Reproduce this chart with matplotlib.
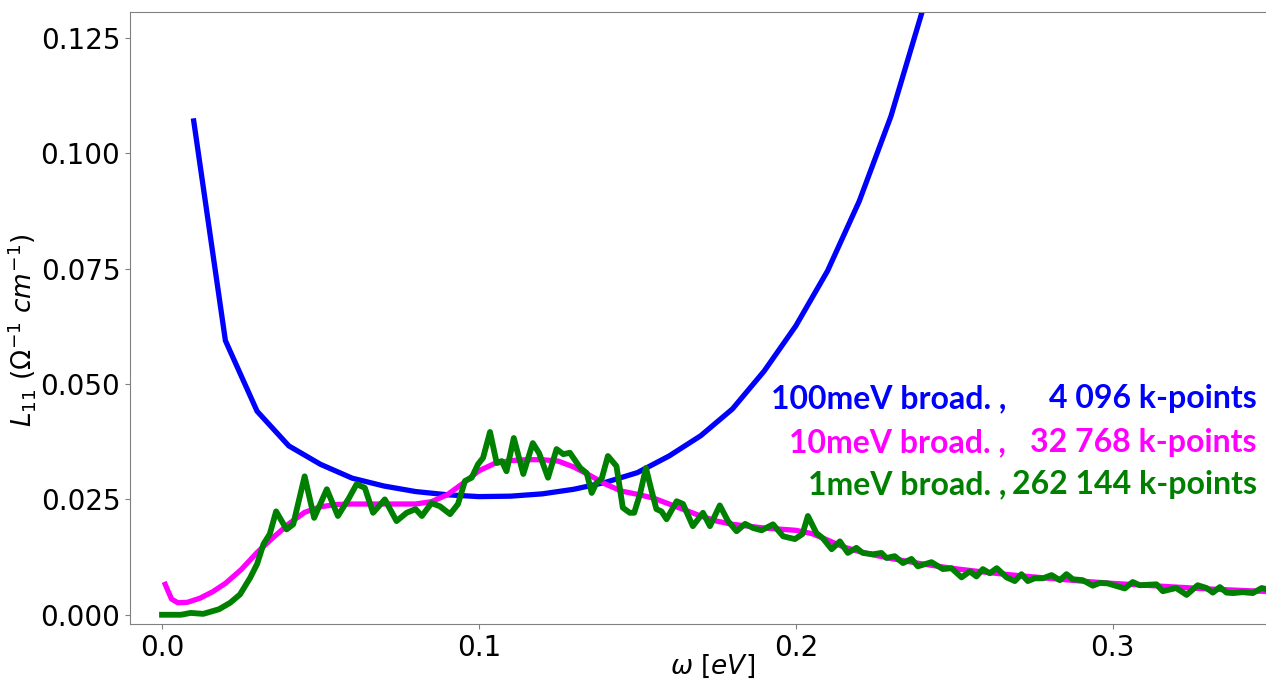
import matplotlib
matplotlib.use("Agg")
import matplotlib.pyplot as plt

# 100 meV broadening, 4 096 k-points
w_100 = [0.01, 0.02, 0.03, 0.04, 0.05, 0.06, 0.07, 0.08, 0.09, 0.10, 0.11, 0.12,
         0.13, 0.14, 0.15, 0.16, 0.17, 0.18, 0.19, 0.20, 0.21, 0.22, 0.23, 0.24]
L_100 = [0.107, 0.0594, 0.0441, 0.0366, 0.0326, 0.0296, 0.0279, 0.0267, 0.0260,
         0.0256, 0.0257, 0.0262, 0.0272, 0.0287, 0.0308, 0.0344, 0.0388, 0.0446,
         0.0528, 0.0626, 0.0745, 0.0896, 0.108, 0.131]

# 10 meV broadening, 32 768 k-points
w_10 = [0.001, 0.003, 0.005, 0.008, 0.012, 0.016, 0.020, 0.025, 0.030, 0.035,
        0.040, 0.045, 0.050, 0.055, 0.060, 0.070, 0.080, 0.085, 0.090, 0.095,
        0.100, 0.105, 0.110, 0.115, 0.120, 0.125, 0.130, 0.135, 0.140, 0.145,
        0.150, 0.155, 0.160, 0.165, 0.170, 0.175, 0.180, 0.190, 0.200, 0.205,
        0.210, 0.215, 0.220, 0.225, 0.230, 0.240, 0.250, 0.260, 0.270, 0.280,
        0.290, 0.300, 0.310, 0.320, 0.330, 0.340, 0.350]
L_10 = [0.0066, 0.0034, 0.0026, 0.0027, 0.0036, 0.0050, 0.0068, 0.0098, 0.0135,
        0.0167, 0.0197, 0.0222, 0.0234, 0.0239, 0.0240, 0.0240, 0.0240, 0.0245,
        0.0260, 0.0285, 0.0312, 0.0328, 0.0334, 0.0336, 0.0336, 0.0333, 0.0320,
        0.0302, 0.0283, 0.0268, 0.0261, 0.0253, 0.0240, 0.0227, 0.0214, 0.0203,
        0.0196, 0.0188, 0.0183, 0.0176, 0.0162, 0.0147, 0.0137, 0.0129, 0.0122,
        0.0110, 0.0100, 0.0092, 0.0085, 0.0079, 0.0073, 0.0068, 0.0064, 0.0060,
        0.0056, 0.0053, 0.0050]

# 1 meV broadening, 262 144 k-points
w_1 = [0.000, 0.006, 0.009, 0.013, 0.018, 0.0215, 0.0246, 0.0278, 0.030, 0.032,
       0.034, 0.036, 0.0393, 0.0414, 0.045, 0.048, 0.052, 0.0555, 0.059, 0.0614,
       0.064, 0.0666, 0.0703, 0.074, 0.0772, 0.080, 0.082, 0.085, 0.0877, 0.0909,
       0.0934, 0.0956, 0.0977, 0.0997, 0.1013, 0.1035, 0.1056, 0.1072, 0.1087,
       0.111, 0.114, 0.117, 0.119, 0.1218, 0.1245, 0.1266, 0.1287, 0.132, 0.134,
       0.1356, 0.1371, 0.1387, 0.1407, 0.1434, 0.1454, 0.1476, 0.149, 0.1508,
       0.1527, 0.1545, 0.156, 0.1576, 0.1592, 0.1624, 0.1644, 0.1675, 0.1707,
       0.1729, 0.176, 0.1786, 0.1813, 0.184, 0.1865, 0.1892, 0.1928, 0.196,
       0.1997, 0.2021, 0.2038, 0.2065, 0.2085, 0.2113, 0.2139, 0.2164, 0.2191,
       0.2211, 0.2243, 0.227, 0.2286, 0.2312, 0.2338, 0.2365, 0.2385, 0.2428,
       0.2464, 0.2491, 0.2523, 0.2549, 0.257, 0.259, 0.2612, 0.2634, 0.2665,
       0.2691, 0.2712, 0.2732, 0.2754, 0.278, 0.2807, 0.2833, 0.2854, 0.2874,
       0.2905, 0.2937, 0.2959, 0.2984, 0.3038, 0.3063, 0.3085, 0.3138, 0.3158,
       0.320, 0.3233, 0.3268, 0.3296, 0.3316, 0.3338, 0.3359, 0.338, 0.341,
       0.3442, 0.347, 0.350]
L_1 = [0.0000, 0.0000, 0.0004, 0.0002, 0.0012, 0.0026, 0.0044, 0.0080, 0.0110,
       0.0153, 0.0175, 0.0224, 0.0185, 0.0196, 0.0300, 0.0210, 0.0272, 0.0214,
       0.0253, 0.0283, 0.0275, 0.0221, 0.0250, 0.0203, 0.0221, 0.0229, 0.0214,
       0.0242, 0.0235, 0.0218, 0.0240, 0.0290, 0.0297, 0.0326, 0.0340, 0.0396,
       0.0329, 0.0333, 0.0311, 0.0383, 0.0305, 0.0372, 0.0350, 0.0297, 0.0359,
       0.0348, 0.0351, 0.0318, 0.0307, 0.0264, 0.0286, 0.0294, 0.0344, 0.0322,
       0.0232, 0.0221, 0.0221, 0.0261, 0.0318, 0.0268, 0.0229, 0.0224, 0.0207,
       0.0246, 0.0240, 0.0192, 0.0221, 0.0192, 0.0237, 0.0203, 0.0181, 0.0197,
       0.0188, 0.0183, 0.0196, 0.0170, 0.0164, 0.0175, 0.0214, 0.0177, 0.0166,
       0.0142, 0.0159, 0.0134, 0.0145, 0.0134, 0.0131, 0.0134, 0.0123, 0.0127,
       0.0112, 0.0121, 0.0105, 0.0114, 0.0099, 0.0101, 0.0081, 0.0094, 0.0083,
       0.0099, 0.0090, 0.0101, 0.0081, 0.0073, 0.0088, 0.0073, 0.0079, 0.0079,
       0.0086, 0.0075, 0.0088, 0.0077, 0.0075, 0.0063, 0.0069, 0.0068, 0.0057,
       0.0071, 0.0064, 0.0066, 0.0051, 0.0058, 0.0043, 0.0064, 0.0058, 0.0048,
       0.0060, 0.0048, 0.0047, 0.0049, 0.0047, 0.0058, 0.0053]

labels_left = ["100meV broad. ,", "10meV broad. ,", "1meV broad. ,"]
labels_right = ["4 096 k-points", "32 768 k-points", "262 144 k-points"]
colors = ["#0000ff", "#ff00ff", "#008000"]

fig = plt.figure(figsize=(12.66, 6.87), dpi=100)
ax = fig.add_axes([0.1027, 0.0917, 0.8989, 0.8908])

ax.plot(w_100, L_100, color=colors[0], lw=3.8)
ax.plot(w_10, L_10, color=colors[1], lw=3.8)
ax.plot(w_1, L_1, color=colors[2], lw=4.2)

ax.set_xlim(-0.0101, 0.349)
ax.set_ylim(-0.002, 0.1306)
ax.set_xticks([0.0, 0.1, 0.2, 0.3])
ax.set_yticks([0.0, 0.025, 0.05, 0.075, 0.1, 0.125])
ax.set_yticklabels(["0.000", "0.025", "0.050", "0.075", "0.100", "0.125"])
ax.tick_params(labelsize=20, color="0.5")
for s in ax.spines.values():
    s.set_color("0.5")

ax.set_xlabel(r"$\omega$ $[eV]$", fontsize=19)
ax.set_ylabel(r"$L_{11}$ ($\Omega^{-1}$ $cm^{-1}$)", fontsize=19)
ax.xaxis.set_label_coords(0.512, -0.048)
ax.yaxis.set_label_coords(-0.081, 0.48)

# right-aligned colored captions for the three curves
ys = [0.353, 0.281, 0.2124]
for y, left, right, c in zip(ys, labels_left, labels_right, colors):
    ax.text(0.770, y, left, transform=ax.transAxes, ha="right", va="baseline",
            color=c, fontsize=23, fontweight="bold", family="Lato")
    ax.text(0.9903, y, right, transform=ax.transAxes, ha="right", va="baseline",
            color=c, fontsize=23, fontweight="bold", family="Lato")

fig.savefig("out.png", dpi=100)
